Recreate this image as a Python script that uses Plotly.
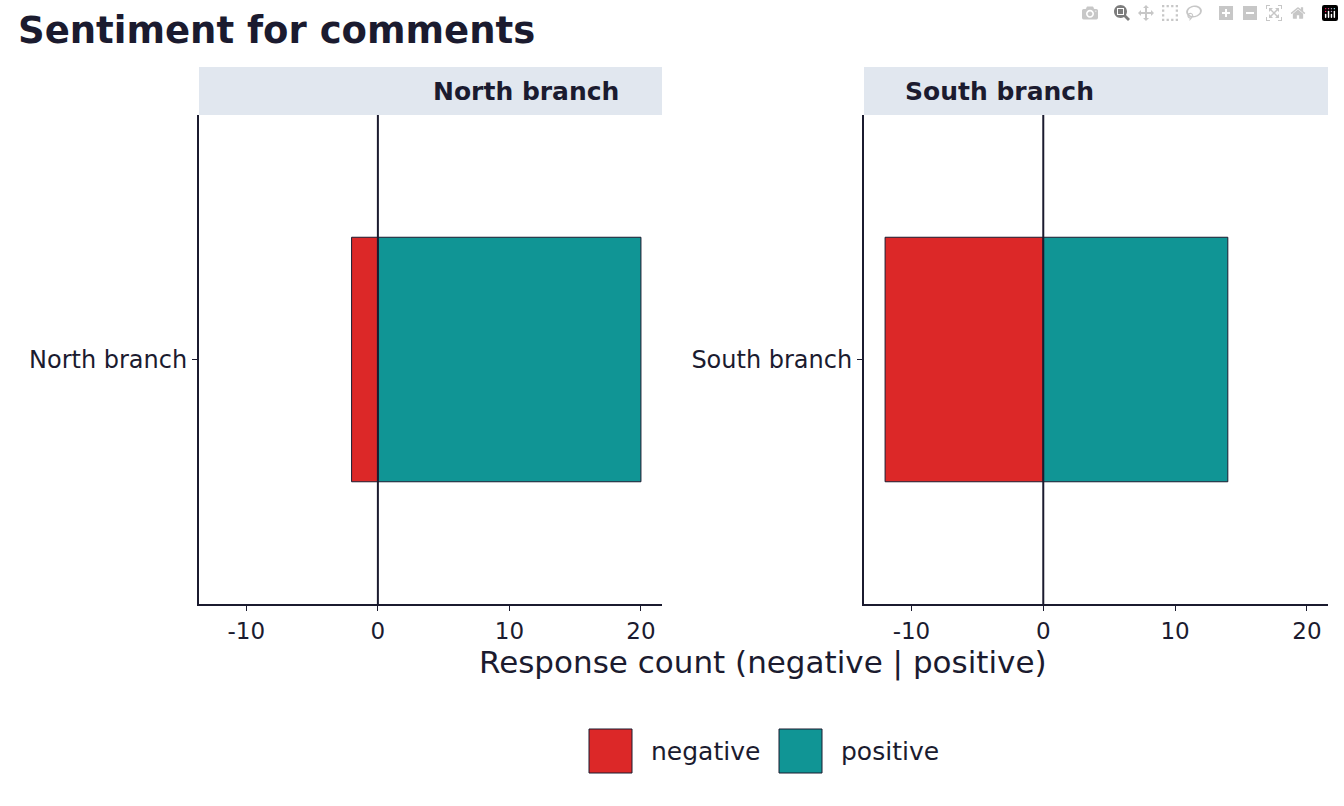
import plotly.graph_objects as go

branches = ["North branch", "South branch"]
negative = [-2, -12]
positive = [20, 14]
colors = {"negative": "#DC2828", "positive": "#109595"}
W, H = 1344, 806
def px(x): return x / W
def py(y): return 1 - y / H

fig = go.Figure()
doms = [(199, 662), (864, 1328)]
for i, b in enumerate(branches):
    xa = "x" if i == 0 else "x2"
    ya = "y" if i == 0 else "y2"
    for name, vals in (("negative", negative), ("positive", positive)):
        fig.add_trace(go.Bar(x=[vals[i]], y=[0], orientation="h", width=0.6,
                             marker=dict(color=colors[name], line=dict(color="#1B1B2F", width=1)),
                             xaxis=xa, yaxis=ya, showlegend=False, name=name))
    fig.add_shape(type="line", xref=xa, yref="paper", x0=0, x1=0, y0=py(604), y1=py(115),
                  line=dict(color="#1B1B2F", width=2))
    fig.add_shape(type="rect", xref="paper", yref="paper", x0=px(doms[i][0]), x1=px(doms[i][1]),
                  y0=py(115), y1=py(67), fillcolor="#E1E7EF", line=dict(width=0), layer="below")
    fig.add_annotation(xref="paper", yref="paper", x=px((doms[i][0]+doms[i][1])/2), y=py(91),
                       yanchor="middle", text="<b>%s</b>" % b, showarrow=False,
                       font=dict(size=25, color="#1B1B2F"))

axis_common = dict(range=[-13.6, 21.6], tickvals=[-10, 0, 10, 20], ticktext=["-10", "0", "10", "20"],
                   showgrid=False, zeroline=False, showline=True, linecolor="#1B1B2F", linewidth=2,
                   ticks="outside", ticklen=5, tickcolor="#1B1B2F", tickfont=dict(size=23, color="#1B1B2F"))
yaxis_common = dict(range=[-0.6, 0.6], tickvals=[0], showgrid=False, zeroline=False, showline=True,
                    linecolor="#1B1B2F", linewidth=2, ticks="outside", ticklen=5, tickcolor="#1B1B2F",
                    tickfont=dict(size=24, color="#1B1B2F"), domain=[py(604), py(115)])
fig.update_layout(
    xaxis=dict(domain=[px(199), px(662)], anchor="y", **axis_common),
    xaxis2=dict(domain=[px(864), px(1328)], anchor="y2", **axis_common),
    yaxis=dict(anchor="x", ticktext=[branches[0]], **yaxis_common),
    yaxis2=dict(anchor="x2", ticktext=[branches[1]], **yaxis_common),
    barmode="relative", width=W, height=H, margin=dict(l=0, r=0, t=0, b=0),
    plot_bgcolor="white", paper_bgcolor="white",
    font=dict(family="DejaVu Sans", color="#1B1B2F"),
)
fig.add_annotation(xref="paper", yref="paper", x=px(16), y=py(31), xanchor="left", yanchor="middle",
                   text="<b>Sentiment for comments</b>", showarrow=False, font=dict(size=37))
fig.add_annotation(xref="paper", yref="paper", x=px(763), y=py(662), yanchor="middle",
                   text="Response count (negative | positive)", showarrow=False, font=dict(size=31))
for name, x0, tx in (("negative", 589, 649), ("positive", 779, 839)):
    fig.add_shape(type="rect", xref="paper", yref="paper", x0=px(x0), x1=px(x0+43), y0=py(773), y1=py(729),
                  fillcolor=colors[name], line=dict(color="#1B1B2F", width=1))
    fig.add_annotation(xref="paper", yref="paper", x=px(tx), y=py(751), xanchor="left", yanchor="middle",
                       text=name, showarrow=False, font=dict(size=25))
fig.write_html("out.html")
with open("out.html", encoding="utf-8") as f:
    html = f.read()
html = html.replace("<head>", "<head><style>html,body{margin:0;padding:0;overflow:hidden}</style>", 1)
with open("out.html", "w", encoding="utf-8") as f:
    f.write(html)
